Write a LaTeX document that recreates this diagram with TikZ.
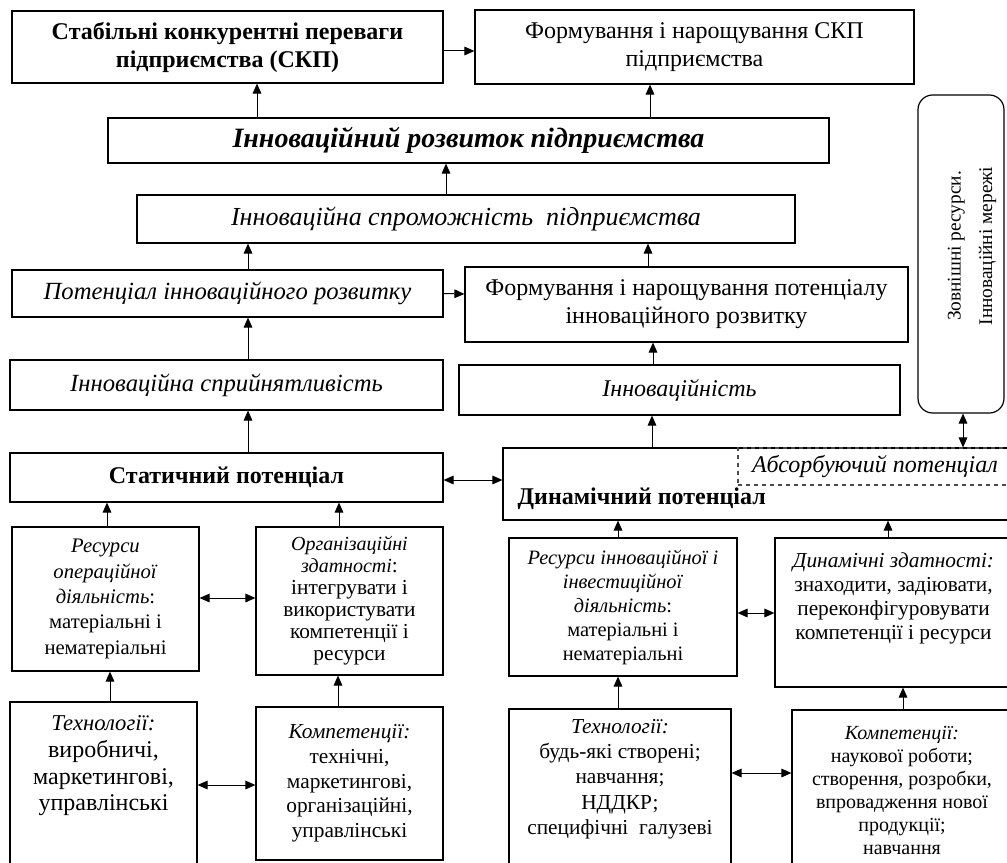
\documentclass[tikz,border=0pt]{standalone}
\usepackage{fontspec}
\setmainfont{Liberation Serif}
\usetikzlibrary{arrows.meta}
\newcommand{\fsz}[2]{\fontsize{#1}{#2}\selectfont}
\tikzset{
    blk/.style={
        draw,
        line width=0.9pt,
        align=center,
        inner sep=0pt},
    wh/.style 2 args={
        minimum width=0.75*#1pt,
        minimum height=0.75*#2pt},
    arr/.style={
        draw,
        line width=0.75pt,
        -{Triangle[length=7.5pt,width=6.5pt]}},
    darr/.style={
        draw,
        line width=0.75pt,
        {Triangle[length=7.5pt,width=6.5pt]}-{Triangle[length=7.5pt,width=6.5pt]}}}

\begin{document}
\begin{tikzpicture}[x=0.75pt,y=-0.75pt]
        \useasboundingbox (0,0) rectangle (1007,863);
        % upper part
        \node[blk, wh={431}{72}, font=\fsz{18}{21}\bfseries] (skp) at (227.5,47) {Стабільні конкурентні переваги\\підприємства (СКП)};
        \node[blk, wh={439}{74}, font=\fsz{18}{21}] (skpform) at (694.5,47) {Формування і нарощування СКП\\підприємства};
        \node[blk, wh={721}{45}, font=\fsz{21}{24}\bfseries\itshape] (rozv) at (468.5,140.5) {Інноваційний розвиток підприємства};
        \node[blk, wh={658}{48}, font=\fsz{19.5}{23}\itshape] (sprom) at (466,219) {Інноваційна спроможність\ \ підприємства};
        \node[blk, wh={431}{47}, font=\fsz{18.5}{22}\itshape] (potenc) at (227.5,293.5) {Потенціал інноваційного розвитку};
        \node[blk, wh={443}{75}, font=\fsz{18}{21}] (potform) at (686.5,304.5) {Формування і нарощування потенціалу\\інноваційного розвитку};
        \node[blk, wh={433}{50}, font=\fsz{18.5}{22}\itshape] (spryin) at (226.5,385) {Інноваційна сприйнятливість};
        \node[blk, wh={441}{50}, font=\fsz{18}{22}\itshape] (innov) at (679.5,390) {Інноваційність};
        \node[blk, wh={433}{49}, font=\fsz{18}{22}\bfseries] (static) at (226.5,477.5) {Статичний потенціал};
        \node[blk, wh={509}{72}] (dynamic) at (757.5,484) {};
        \node[blk, dashed, draw=black!70, wh={274}{37}, font=\fsz{18}{22}\itshape] (absorb) at (875,466.5) {Абсорбуючий потенціал};
        \node[anchor=west, inner sep=0pt, font=\fsz{18}{22}\bfseries] (dynlbl) at ([shift={(15,15)}]dynamic.west) {Динамічний потенціал};
        \node[blk, rounded corners=11pt, wh={86}{318}] (ext) at (961,254) {};
        \node[rotate=90, align=center, inner sep=0pt, font=\fsz{14.5}{23.5}] (extlbl) at ([shift={(11,-8)}]ext) {Зовнішні ресурси.\\Інноваційні мережі};
        % lower part
        \node[blk, wh={187}{144}, font=\fsz{15.5}{19}] (resop) at (105.5,599) {\textit{Ресурси}\\\textit{операційної}\\\textit{діяльність}:\\матеріальні і\\нематеріальні};
        \node[blk, wh={187}{148}, font=\fsz{16}{16.5}] (orgzd) at (349.5,601) {{\fsz{15}{16.5}\itshape Організаційні}\\{\fsz{15}{16.5}\itshape здатності}:\\інтегрувати і\\використувати\\компетенції і\\ресурси};
        \node[blk, wh={187}{168}, font=\fsz{18}{20}, text depth=34pt] (tehL) at (103.5,786) {{\fsz{17}{20}\itshape Технології:}\\виробничі,\\маркетингові,\\управлінські};
        \node[blk, wh={187}{153}, font=\fsz{16}{18.5}] (kompL) at (349.5,783.5) {\textit{Компетенції:}\\технічні,\\маркетингові,\\організаційні,\\управлінські};
        \node[blk, wh={228}{138}, font=\fsz{15.3}{18}] (resinn) at (623,607) {\textit{Ресурси інноваційної і}\\\textit{інвестиційної}\\\textit{діяльність}:\\матеріальні і\\нематеріальні};
        \node[blk, wh={237}{149}, font=\fsz{16}{18}, text depth=24pt] (dynzd) at (893.5,612.5) {\textit{Динамічні здатності:}\\знаходити, задіювати,\\переконфігуровувати\\компетенції і ресурси};
        \node[blk, wh={222}{161}, font=\fsz{16}{19}, text depth=19pt] (tehR) at (620,789.5) {\textit{Технології:}\\будь-які створені;\\навчання;\\НДДКР;\\специфічні\ \ галузеві};
        \node[blk, wh={220}{160}, font=\fsz{15}{17.25}] (kompR) at (902,790) {\textit{Компетенції:}\\наукової роботи;\\створення, розробки,\\впровадження нової\\продукції;\\навчання};
        % connectors
        \draw[arr] ([shift={(0,4)}]skp.east) -- ([shift={(0,4)}]skpform.west);
        \draw[arr] ([shift={(-211.5,0)}]rozv.north) -- ([shift={(29.5,0)}]skp.south);
        \draw[arr] ([shift={(181.5,0)}]rozv.north) -- ([shift={(-44.5,0)}]skpform.south);
        \draw[arr] ([shift={(-20,0)}]sprom.north) -- ([shift={(-22.5,0)}]rozv.south);
        \draw[arr] ([shift={(20.5,0)}]potenc.north) -- ([shift={(-218,0)}]sprom.south);
        \draw[arr] (potenc.east) -- ([shift={(0,-10.5)}]potform.west);
        \draw[arr] ([shift={(-38.5,0)}]potform.north) -- ([shift={(182,0)}]sprom.south);
        \draw[arr] ([shift={(21.5,0)}]spryin.north) -- ([shift={(20.5,0)}]potenc.south);
        \draw[arr] ([shift={(-26.5,0)}]innov.north) -- ([shift={(-33.5,0)}]potform.south);
        \draw[arr] ([shift={(21.5,0)}]static.north) -- ([shift={(21.5,0)}]spryin.south);
        \draw[darr] ([shift={(0,2.5)}]static.east) -- ([shift={(0,-4)}]dynamic.west);
        \draw[arr] ([shift={(-105.5,0)}]dynamic.north) -- ([shift={(-27.5,0)}]innov.south);
        \draw[darr] ([shift={(2,0)}]ext.south) -- ([shift={(205.5,0)}]dynamic.north);
        \draw[arr] ([shift={(1.5,0)}]resop.north) -- ([shift={(-119.5,0)}]static.south);
        \draw[arr] ([shift={(-10.5,0)}]orgzd.north) -- ([shift={(112.5,0)}]static.south);
        \draw[darr] ([shift={(0,-1)}]resop.east) -- ([shift={(0,-3)}]orgzd.west);
        \draw[arr] ([shift={(6.5,0)}]tehL.north) -- ([shift={(4.5,0)}]resop.south);
        \draw[arr] ([shift={(-11.5,0)}]kompL.north) -- ([shift={(-11.5,0)}]orgzd.south);
        \draw[darr] ([shift={(0,-1)}]tehL.east) -- ([shift={(0,1.5)}]kompL.west);
        \draw[arr] ([shift={(-5,0)}]resinn.north) -- ([shift={(-139.5,0)}]dynamic.south);
        \draw[arr] ([shift={(-5.5,0)}]dynzd.north) -- ([shift={(130.5,0)}]dynamic.south);
        \draw[darr] ([shift={(0,6)}]resinn.east) -- ([shift={(0,0.5)}]dynzd.west);
        \draw[arr] ([shift={(-2,0)}]tehR.north) -- ([shift={(-5,0)}]resinn.south);
        \draw[arr] ([shift={(1,0)}]kompR.north) -- ([shift={(9.5,0)}]dynzd.south);
        \draw[darr] ([shift={(0,-16.5)}]tehR.east) -- ([shift={(0,-17)}]kompR.west);
    \end{tikzpicture}
\end{document}
